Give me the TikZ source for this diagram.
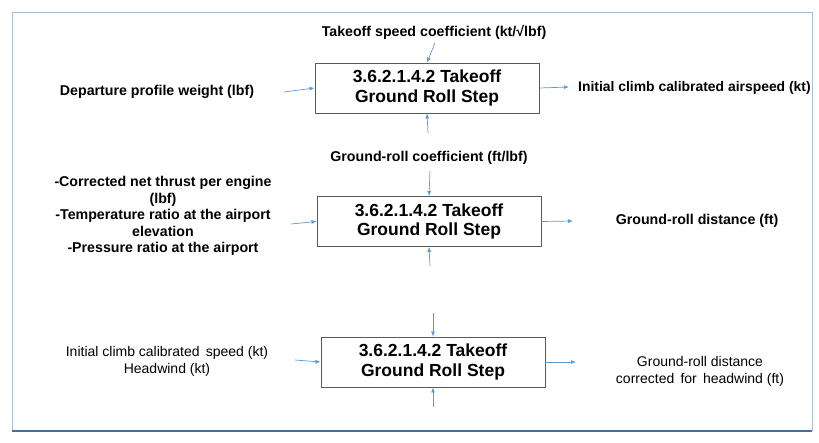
\documentclass[tikz,border=0pt]{standalone}
\usepackage{fontspec}
\setmainfont{Liberation Sans}
\usetikzlibrary{arrows.meta}
\definecolor{arrowblue}{HTML}{5B9BD5}
\definecolor{framelight}{HTML}{A9BCD5}
\definecolor{framedark}{HTML}{41719C}
\definecolor{boxgray}{HTML}{595959}
\begin{document}
\begin{tikzpicture}[x=1pt,y=-1pt,
  stepbox/.style={draw=boxgray,line width=0.9pt,minimum width=224pt,minimum height=50pt,
    align=center,font=\fontsize{17.5}{19.5}\selectfont\bfseries,inner sep=0pt},
  lbl/.style={align=center,font=\fontsize{14.2}{16.5}\selectfont\bfseries,inner sep=0pt},
  lblr/.style={align=center,font=\fontsize{14}{17}\selectfont,inner sep=0pt},
  conn/.style={draw=arrowblue,line width=0.7pt,-{Latex[length=5pt,width=4pt]}}]
\useasboundingbox (0,0) rectangle (819,442);
\draw[framelight,line width=1pt] (12,431) -- (12,12) -- (812,12) -- (812,431);
\draw[framedark,line width=1.2pt] (12,431) -- (812,431);

% row 1
\node[stepbox] (b1) at (427,88) {3.6.2.1.4.2 Takeoff\\Ground Roll Step};
\node[lbl] (t1) at (434,32) {Takeoff speed coefficient (kt/√lbf)};
\node[lbl] (l1) at (157,92) {Departure profile weight (lbf)};
\node[lbl,anchor=west,font=\fontsize{13.9}{16.5}\selectfont\bfseries] (r1) at (578,88) {Initial climb calibrated airspeed (kt)};
\coordinate (t1s) at (435,43);
\coordinate (l1s) at (284,92);
\coordinate (r1e) at (569,87);
\coordinate (u1s) at (428,133);
\draw[conn] (t1s) -- (b1.north);
\draw[conn] (l1s) -- (b1.west);
\draw[conn] (b1.east) -- (r1e);
\draw[conn] (u1s) -- (b1.south);

% row 2
\node[stepbox] (b2) at (429,221.5) {3.6.2.1.4.2 Takeoff\\Ground Roll Step};
\node[lbl] (t2) at (429,158) {Ground-roll coefficient (ft/lbf)};
\node[lbl] (l2) at (163,216) {-Corrected net thrust per engine\\(lbf)\\-Temperature ratio at the airport\\elevation\\-Pressure ratio at the airport};
\node[lbl] (r2) at (697,221) {Ground-roll distance (ft)};
\coordinate (t2s) at (430,171);
\coordinate (l2s) at (291,224);
\coordinate (r2e) at (573,221);
\coordinate (u2s) at (430,266);
\draw[conn] (t2s) -- (b2.north);
\draw[conn] (l2s) -- (b2.west);
\draw[conn] (b2.east) -- (r2e);
\draw[conn] (u2s) -- (b2.south);

% row 3
\node[lblr] (l3) at (167,361.5) {Initial climb calibrated\, speed (kt)\\Headwind (kt)};
\node[stepbox] (b3) at (433,362) {3.6.2.1.4.2 Takeoff\\Ground Roll Step};
\node[lblr] (r3) at (700,371) {Ground-roll distance\\corrected\, for\, headwind (ft)};
\coordinate (t3s) at (433,313);
\coordinate (l3s) at (295,360);
\coordinate (r3e) at (576,362);
\coordinate (u3s) at (433,407);
\draw[conn] (t3s) -- (b3.north);
\draw[conn] (l3s) -- (b3.west);
\draw[conn] (b3.east) -- (r3e);
\draw[conn] (u3s) -- (b3.south);
\end{tikzpicture}
\end{document}
